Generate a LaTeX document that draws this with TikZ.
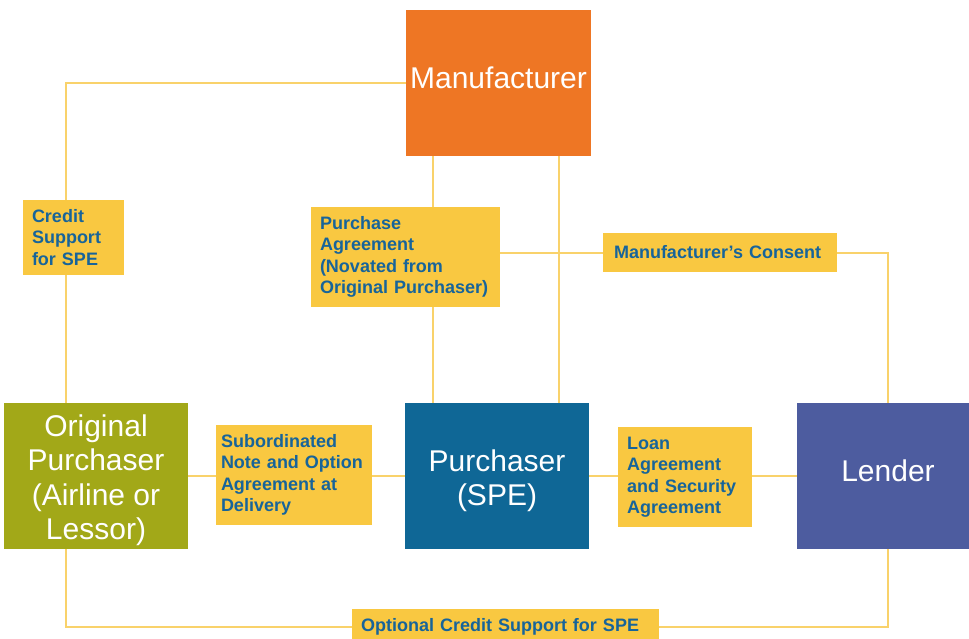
\documentclass[tikz,border=0pt]{standalone}
\usepackage{fontspec}
\setmainfont{Liberation Sans}
\usetikzlibrary{backgrounds}
\definecolor{orangeM}{HTML}{EE7624}
\definecolor{oliveO}{HTML}{A2A818}
\definecolor{blueP}{HTML}{0F6796}
\definecolor{purpleL}{HTML}{4D5C9F}
\definecolor{yellowL}{HTML}{F9C841}
\definecolor{lineY}{HTML}{F9D26B}
\definecolor{textB}{HTML}{17649A}
\newcommand{\nohyphs}{\hyphenpenalty=10000\relax\exhyphenpenalty=10000\relax}
\tikzset{
  party/.style={fill=#1, draw=none, text=white, align=center, inner sep=0pt,
    font=\fontsize{30}{34.5}\selectfont},
  lbl/.style={fill=yellowL, draw=none, text=textB, align=left, inner xsep=9pt, inner ysep=0pt,
    font=\fontsize{18}{21.5}\selectfont\bfseries\nohyphs},
  conn/.style={draw=lineY, line width=1.4pt}
}
\newcommand{\stackup}[2]{\raisebox{#1}[\height][\depth]{\begin{tabular}{@{}c@{}}#2\end{tabular}}}
\begin{document}
\begin{tikzpicture}[x=1pt,y=-1pt]
\useasboundingbox (0,0) rectangle (969,639);
% party boxes
\node[party=orangeM, minimum width=185, minimum height=146] (man) at (498.5,83) {\stackup{1pt}{Manufacturer}};
\node[party=oliveO, minimum width=184, minimum height=146] (orig) at (96,476) {\stackup{-5pt}{Original\\Purchaser\\(Airline or\\Lessor)}};
\node[party=blueP, minimum width=184, minimum height=146] (sp) at (497,476) {\stackup{-5.5pt}{Purchaser\\(SPE)}};
\node[party=purpleL, minimum width=172, minimum height=146] (lend) at (883,476) {\stackup{1pt}{\hspace*{10pt}Lender}};
% helper coordinates for connector columns / rows
\coordinate (xa) at (66,0);
\coordinate (xb) at (433,0);
\coordinate (xc) at (559,0);
\coordinate (xd) at (888,0);
\coordinate (yc) at (0,253);
% labels
\node[lbl, text width=83, minimum height=75] (cs) at (73.5,237.5) {Credit\\Support\\for SPE};
\node[lbl, text width=171, minimum height=100] (pa) at (405.5,257) {Purchase\\Agreement\\(Novated from\\Original Purchaser)};
\node[lbl, inner xsep=11pt, text width=212, minimum height=39] (mc) at (720,252.5) {Manufacturer’s Consent};
\node[lbl, inner xsep=5pt, text width=146, minimum height=100] (sub) at (294,475) {Subordinated\\Note and Option\\Agreement at\\Delivery};
\node[lbl, text width=116, minimum height=100] (loan) at (685,477) {Loan\\Agreement\\and Security\\Agreement};
\node[lbl, text width=289, minimum height=36] (opt) at (505.5,627) {Optional Credit Support for SPE};
% connectors (behind)
\begin{scope}[on background layer]
  % Manufacturer -> Credit Support -> Original Purchaser
  \draw[conn] (man.west) -| (cs.north -| xa);
  \draw[conn] (cs.south -| xa) -- (orig.north -| xa);
  % Manufacturer -> Purchase Agreement -> Purchaser
  \draw[conn] (man.south -| xb) -- (pa.north -| xb);
  \draw[conn] (pa.south -| xb) -- (sp.north -| xb);
  % Manufacturer -> Purchaser direct
  \draw[conn] (man.south -| xc) -- (sp.north -| xc);
  % Purchase Agreement -> Consent -> Lender
  \draw[conn] (pa.east |- yc) -- (mc.west |- yc);
  \draw[conn] (mc.east |- yc) -| (lend.north -| xd);
  % Original Purchaser -> Subordinated -> Purchaser
  \draw[conn] (orig.east) -- (sub.west |- orig.east);
  \draw[conn] (sub.east |- sp.west) -- (sp.west);
  % Purchaser -> Loan -> Lender
  \draw[conn] (sp.east) -- (loan.west |- sp.east);
  \draw[conn] (loan.east |- lend.west) -- (lend.west);
  % Original Purchaser -> Optional Credit Support -> Lender
  \draw[conn] (orig.south -| xa) |- (opt.west);
  \draw[conn] (opt.east) -| (lend.south -| xd);
\end{scope}
\end{tikzpicture}
\end{document}
